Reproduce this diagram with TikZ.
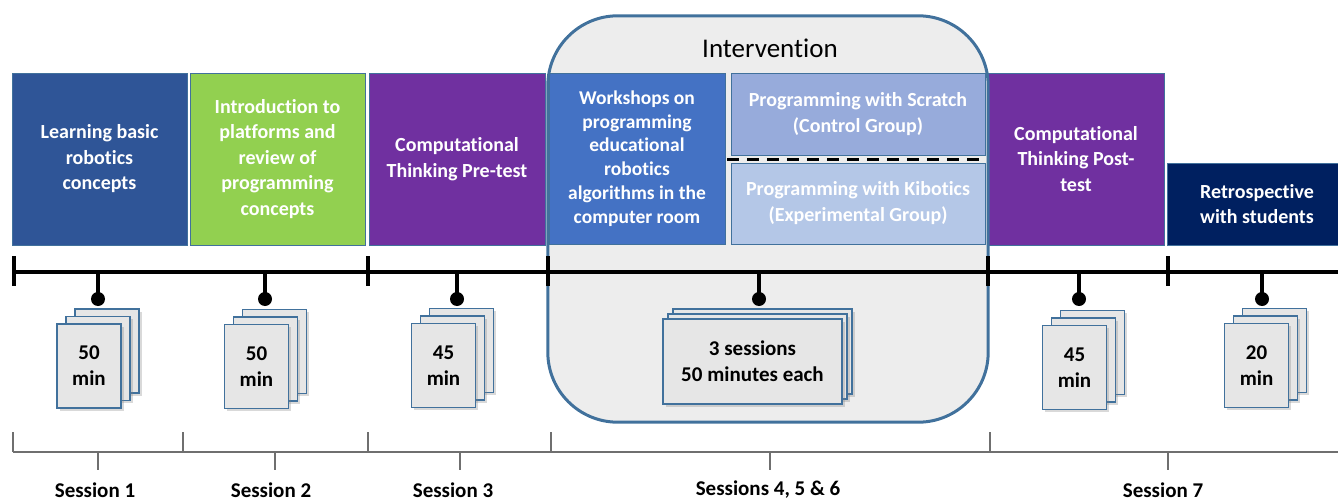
\documentclass[tikz,border=0pt]{standalone}
\usepackage{fontspec}
\setmainfont{Carlito}[Ligatures=NoCommon]
\usetikzlibrary{shadows}

\definecolor{c1blue}{HTML}{2F5597}
\definecolor{c2green}{HTML}{92D050}
\definecolor{c3purple}{HTML}{7030A0}
\definecolor{c4blue}{HTML}{4472C4}
\definecolor{c5scratch}{HTML}{97ABDB}
\definecolor{c6kib}{HTML}{B4C7E7}
\definecolor{c7navy}{HTML}{002060}
\definecolor{edgeblue}{HTML}{41719C}
\definecolor{framefill}{HTML}{EDEDED}
\definecolor{pagefill}{HTML}{E6E6E6}
\definecolor{bracketgray}{HTML}{6F6F6F}

% a stack of three pages; #1 name, #2,#3 centre of the front page,
% #4,#5 size, #6,#7 shift between pages, #8 text
\newcommand\docstack[8]{%
  \node[docpage, minimum width=#4, minimum height=#5] (#1b) at ({#2+2*#6},{#3-2*#7}) {};
  \node[docpage, minimum width=#4, minimum height=#5] (#1m) at ({#2+#6},{#3-#7}) {};
  \node[docpage, minimum width=#4, minimum height=#5, align=center] (#1) at (#2,#3) {#8};
}

\begin{document}
\begin{tikzpicture}[x=1pt, y=-1pt,
  phase/.style={draw=edgeblue, line width=0.8pt, text=white, align=center,
    inner sep=0pt, font=\fontsize{20}{25.5}\bfseries\selectfont},
  docpage/.style={draw=edgeblue, line width=1.4pt, fill=pagefill, inner sep=0pt,
    font=\fontsize{21}{26}\bfseries\selectfont,
    drop shadow={opacity=0.3, shadow xshift=2.5pt, shadow yshift=-2.5pt}},
  axis/.style={black, line width=4pt},
  drop/.style={black, line width=3.5pt},
  dotmark/.style={circle, fill=black, inner sep=0pt, minimum size=14pt},
  bracket/.style={bracketgray, line width=1.2pt},
  sessionlabel/.style={font=\fontsize{21}{24}\bfseries\selectfont, inner sep=0pt}
]
\useasboundingbox (0,0) rectangle (1338,500);
\begin{scope}
\clip (0,0) rectangle (1338,500);

% intervention frame (fill first, outline after the inner boxes)
\node[fill=framefill, rounded corners=70pt, minimum width=440pt, minimum height=406pt,
      inner sep=0pt] (interv) at (768,219) {};
\node[font=\fontsize{27}{30}\selectfont, inner sep=0pt] (intervtitle) at (770,48) {Intervention};

% phase boxes
\node[phase, fill=c1blue, minimum width=175pt, minimum height=172pt] (learn) at (99.5,159)
  {Learning basic\\robotics\\concepts};
\node[phase, fill=c2green, minimum width=175pt, minimum height=172pt] (intro) at (277.5,159)
  {Introduction to\\platforms and\\review of\\programming\\concepts};
\node[phase, fill=c3purple, minimum width=176pt, minimum height=172pt] (pretest) at (457,159)
  {Computational\\Thinking Pre-test};
\node[phase, fill=c4blue, minimum width=176pt, minimum height=171pt,
      font=\fontsize{19.5}{23.8}\bfseries\selectfont] (workshop) at (637,158.5)
  {Workshops on\\programming\\educational\\robotics\\algorithms in the\\computer room};
\node[phase, fill=c5scratch, minimum width=254pt, minimum height=82pt,
      font=\fontsize{20}{26}\bfseries\selectfont] (scratch) at (858,114)
  {Programming with Scratch\\(Control Group)};
\node[phase, fill=c6kib, minimum width=254pt, minimum height=81pt,
      font=\fontsize{20}{26}\bfseries\selectfont] (kibotics) at (858,203.5)
  {Programming with Kibotics\\(Experimental Group)};
\node[phase, fill=c3purple, minimum width=176pt, minimum height=172pt] (posttest) at (1076,159)
  {Computational\\Thinking Post-\\test};
\node[phase, fill=c7navy, minimum width=180pt, minimum height=82pt] (retro) at (1257,204)
  {Retrospective\\with students};

% split between the two groups
\coordinate (splitL) at (727,159);
\coordinate (splitR) at (987,159);
\draw[black, line width=3pt, dash pattern=on 12pt off 8pt] (splitL) -- (splitR);

% frame outline
\draw[edgeblue, line width=3pt, rounded corners=70pt]
  (interv.north west) rectangle (interv.south east);

% timeline
\coordinate (t0) at (14,272);
\coordinate (tend) at (1338,272);
\draw[axis] (t0) -- (tend);
\foreach \x [count=\i] in {14,368,548,988,1168} {
  \coordinate (tickTop\i) at (\x,256);
  \coordinate (tickBot\i) at (\x,286);
  \draw[axis] (tickTop\i) -- (tickBot\i);
}
\foreach \x [count=\i] in {98,265,457,759,1079,1262} {
  \coordinate (drop\i) at (\x,272);
  \node[dotmark] (dot\i) at (\x,299) {};
  \draw[drop] (drop\i) -- (dot\i.center);
}

% durations
\docstack{doc1}{89}{366}{64pt}{84pt}{9}{7.5}{50\\min}
\docstack{doc2}{256.5}{366.5}{64pt}{84pt}{9}{7.5}{50\\min}
\docstack{doc3}{443.5}{365.5}{64pt}{84pt}{9}{7.5}{45\\min}
\docstack{doc4}{752.5}{361.5}{179pt}{85pt}{5}{5}{3 sessions\\50 minutes each}
\docstack{doc5}{1074.5}{367.5}{64pt}{84pt}{9}{7.5}{45\\min}
\docstack{doc6}{1256.5}{365.5}{64pt}{84pt}{9}{7.5}{20\\min}

% session brackets
\coordinate (b0) at (13,452);
\coordinate (bend) at (1338,452);
\draw[bracket] (b0) -- (bend);
\foreach \x [count=\i] in {13,183,368,551,990} {
  \coordinate (up\i) at (\x,432);
  \coordinate (base\i) at (\x,452);
  \draw[bracket] (up\i) -- (base\i);
}
\foreach \x/\lx/\t [count=\i] in {98/95/Session 1, 275/271/Session 2, 460/453/Session 3,
                                   770/768/{Sessions 4, 5 \& 6}, 1168/1163/Session 7} {
  \coordinate (mid\i) at (\x,452);
  \coordinate (midlow\i) at (\x,470);
  \draw[bracket] (mid\i) -- (midlow\i);
  \node[sessionlabel] (sess\i) at (\lx,490) {\t};
}
\end{scope}
\end{tikzpicture}
\end{document}
